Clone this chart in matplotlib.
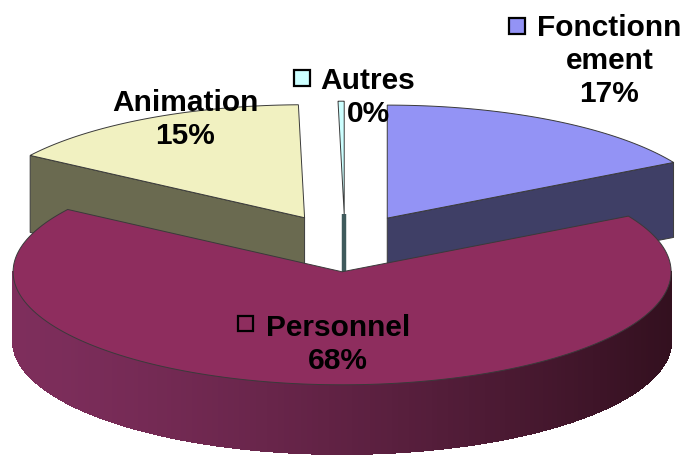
import numpy as np
import matplotlib
matplotlib.use("Agg")
import matplotlib.pyplot as plt
from matplotlib.patches import Polygon, Rectangle
from matplotlib.colors import to_rgb

# clockwise from the top of the pie
categories = ["Fonctionn\nement", "Personnel", "Animation", "Autres"]
shares = [16.8, 67.5, 15.4, 0.3]
top_colors = ["#9393F5", "#8E2D5E", "#F1F1C1", "#CCFFFF"]
face_colors = ["#3F3F66", "#7E2E5C", "#6A6A50", "#3F5A5C"]

# pie geometry in image pixels
cx, cy = 345, 243
rx, ry = 329, 113
explode = 0.255
depth = 69
start_angle = 90

name_pos = [(609.5, 44.5), (338, 328), (185, 103), (368, 81)]
pct_pos = [(609, 94), (338, 361), (185, 136), (368, 114)]
key_pos = [(509, 18, 16), (238, 316, 15), None, (294, 70, 16)]

plt.rcParams['font.family'] = ['Liberation Sans', 'DejaVu Sans']
fig = plt.figure(figsize=(6.85, 4.57), dpi=100)
ax = fig.add_axes([0, 0, 1, 1])
ax.set_xlim(0, 685)
ax.set_ylim(457, 0)
ax.axis('off')


def rim(x0, y0, angles):
    a = np.radians(angles)
    return np.column_stack([x0 + rx * np.cos(a), y0 - ry * np.sin(a)])


edge = "#3a3a3a"
angle = start_angle
slices = []
for s in shares:
    span = s / sum(shares) * 360
    slices.append((angle, angle - span))
    angle -= span

for z, i in enumerate([2, 0, 3, 1]):
    a0, a1 = slices[i]
    mid = np.radians((a0 + a1) / 2)
    ax0 = cx + explode * rx * np.cos(mid)
    ay0 = cy - explode * ry * np.sin(mid)
    angles = np.linspace(a0, a1, 160)
    pts = rim(ax0, ay0, angles)

    if i == 0:
        # cut face on the right corner
        p = pts[-1]
        ax.add_patch(Polygon([(ax0, ay0), p, (p[0], p[1] + depth + 6), (ax0, ay0 + depth + 6)],
                             fc=face_colors[i], ec=edge, lw=0.7, zorder=z))
    if i == 2:
        p = pts[0]
        ax.add_patch(Polygon([(ax0, ay0), p, (p[0], p[1] + depth + 8), (ax0, ay0 + depth + 8)],
                             fc=face_colors[i], ec=edge, lw=0.7, zorder=z))
    if i == 3:
        ax.plot([ax0, ax0], [ay0, ay0 + depth], color=face_colors[i], lw=3.2,
                solid_capstyle='butt', zorder=z)
    if i == 1:
        # outer wall, getting darker to the right
        wall = np.linspace(-180, 0, 181)
        c0 = np.array(to_rgb(face_colors[i]))
        c1 = np.array(to_rgb("#33101F"))
        for k in range(len(wall) - 1):
            q = rim(ax0, ay0, wall[k:k + 2])
            f = (q[0, 0] - (ax0 - rx)) / (2 * rx)
            col = c0 + (c1 - c0) * f ** 1.3
            ax.add_patch(Polygon([q[0], q[1], q[1] + [0, depth], q[0] + [0, depth]],
                                 fc=col, ec=col, lw=1.0, antialiased=False, zorder=z))

    top = np.vstack([[ax0, ay0], pts])
    ax.add_patch(Polygon(top, closed=True, fc=top_colors[i], ec=edge, lw=0.7, zorder=z + 0.5))

pct = ["%d%%" % round(s) for s in shares]
txt = dict(fontsize=21.5, fontweight='bold', color='black', ha='center', va='center',
           linespacing=1.2, zorder=10)
for name, p, np_, pp in zip(categories, pct, name_pos, pct_pos):
    ax.text(np_[0], np_[1], name, **txt)
    ax.text(pp[0], pp[1], p, **txt)

for k, col in zip(key_pos, top_colors):
    if k is not None:
        ax.add_patch(Rectangle((k[0], k[1]), k[2], k[2], fc=col, ec='black', lw=1.6, zorder=11))

fig.savefig("out.png", dpi=100)
